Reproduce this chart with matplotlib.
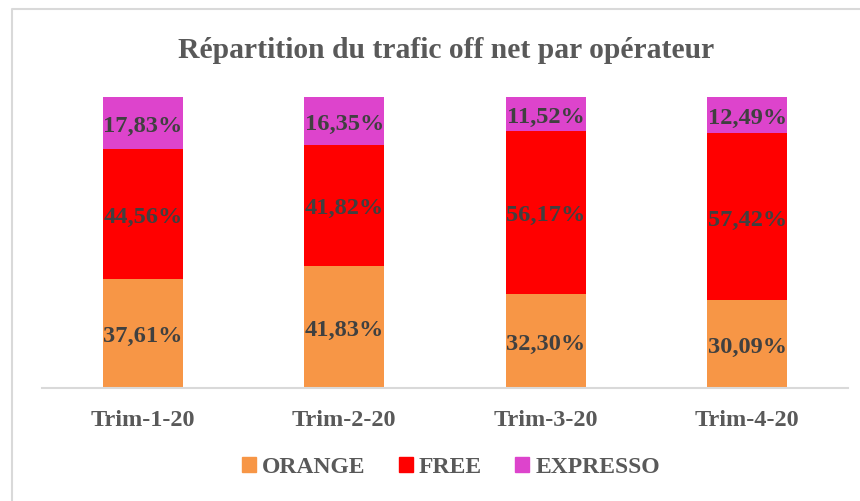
import matplotlib.pyplot as plt
from matplotlib.lines import Line2D
from matplotlib.patches import Patch

plt.rcParams['font.family'] = ['Liberation Serif', 'DejaVu Serif']

# données (en %)
trimestres = ["Trim-1-20", "Trim-2-20", "Trim-3-20", "Trim-4-20"]
orange = [37.61, 41.83, 32.30, 30.09]
free = [44.56, 41.82, 56.17, 57.42]
expresso = [17.83, 16.35, 11.52, 12.49]

series = ["ORANGE", "FREE", "EXPRESSO"]
couleurs = ["#F79646", "#FF0000", "#DD44CC"]

fig = plt.figure(figsize=(8.6, 5.02), dpi=100)
ax = fig.add_axes([42 / 860, 1 - 389 / 502, (848 - 42) / 860, (389 - 98) / 502])

x = list(range(len(trimestres)))
bas = [0.0] * len(trimestres)
for nom, vals, c in zip(series, [orange, free, expresso], couleurs):
    bars = ax.bar(x, vals, width=0.396, bottom=bas, color=c, edgecolor="none")
    for xi, b, v in zip(x, bas, vals):
        ax.text(xi, b + v / 2, f"{v:.2f}%".replace(".", ","), ha="center", va="center_baseline",
                fontsize=17.6, fontweight="bold", color="#404040")
    bas = [b + v for b, v in zip(bas, vals)]

ax.set_xlim(-0.5, len(trimestres) - 0.5)
ax.set_ylim(0, 100)
ax.set_yticks([])
for s in ["top", "right", "left"]:
    ax.spines[s].set_visible(False)
ax.spines["bottom"].set_color("#D9D9D9")
ax.spines["bottom"].set_linewidth(1.5)
ax.set_xticks(x)
ax.set_xticklabels(trimestres, fontsize=17.5, fontweight="bold", color="#595959")
ax.tick_params(axis="x", length=0, pad=15)

fig.text(446 / 860, 1 - 50 / 502, "Répartition du trafic off net par opérateur",
         ha="center", va="center", fontsize=21.3, fontweight="bold", color="#595959")

# cadre du graphique (coupé à droite et en bas)
fig.add_artist(Line2D([12 / 860, 12 / 860, 1.0], [0.0, 1 - 10 / 502, 1 - 10 / 502],
                      transform=fig.transFigure, color="#D9D9D9", lw=1.5))

handles = [Patch(color=c) for c in couleurs]
leg = fig.legend(handles, series, loc="center", bbox_to_anchor=(451 / 860, 1 - 468 / 502),
                 ncol=3, frameon=False, handlelength=0.6, handleheight=0.6,
                 handletextpad=0.25, columnspacing=1.4,
                 prop={"size": 17, "weight": "bold"})
for t in leg.get_texts():
    t.set_color("#595959")

fig.savefig("out.png", dpi=100)
